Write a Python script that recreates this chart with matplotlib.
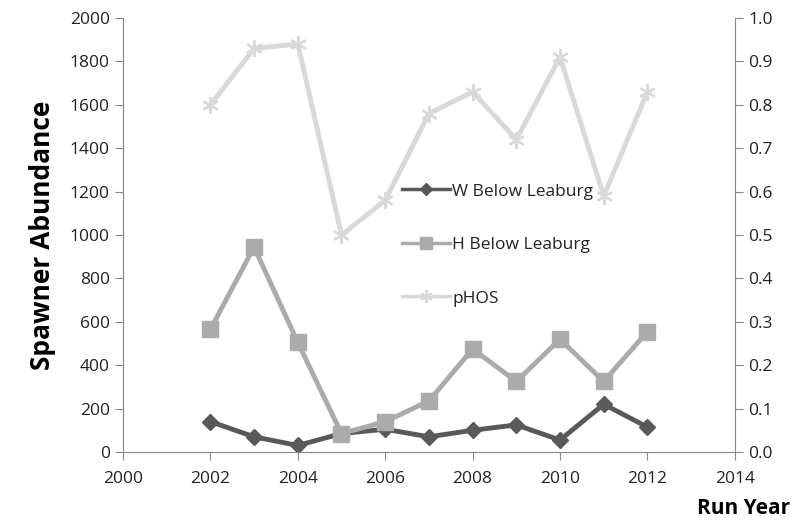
import numpy as np
import matplotlib.pyplot as plt

plt.rcParams['font.family'] = ['Open Sans', 'DejaVu Sans']

# data
years = [2002, 2003, 2004, 2005, 2006, 2007, 2008, 2009, 2010, 2011, 2012]
w_below = [140, 70, 30, 85, 105, 70, 100, 125, 55, 220, 115]
h_below = [565, 945, 505, 85, 140, 235, 475, 325, 520, 325, 555]
phos = [0.80, 0.93, 0.94, 0.50, 0.58, 0.78, 0.83, 0.72, 0.91, 0.59, 0.83]

x_ticks = [2000, 2002, 2004, 2006, 2008, 2010, 2012, 2014]
y_ticks = [0, 200, 400, 600, 800, 1000, 1200, 1400, 1600, 1800, 2000]
y2_ticks = [0.0, 0.1, 0.2, 0.3, 0.4, 0.5, 0.6, 0.7, 0.8, 0.9, 1.0]

fig = plt.figure(figsize=(7.97, 5.32), dpi=100)
ax = fig.add_axes([0.1543, 0.1504, 0.922 - 0.1543, 0.966 - 0.1504])
ax2 = ax.twinx()

spine_col = '#868686'
l3, = ax2.plot(years, phos, color='#D9D9D9', lw=3.5, marker=(6, 2, 0), ms=12,
               mew=1.6, label='pHOS')
l1, = ax.plot(years, w_below, color='#595959', lw=3.5, marker='D', ms=8,
              label='W Below Leaburg')
l2, = ax.plot(years, h_below, color='#ABABAB', lw=3.5, marker='s', ms=12,
              label='H Below Leaburg')
ax.set_zorder(ax2.get_zorder() + 1)
ax.patch.set_visible(False)

ax.set_xlim(2000, 2014)
ax.set_ylim(0, 2000)
ax2.set_ylim(0, 1.0)
ax.set_xticks(x_ticks)
ax.set_yticks(y_ticks)
ax2.set_yticks(y2_ticks)
ax2.set_yticklabels(['%.1f' % v for v in y2_ticks])

for a in (ax, ax2):
    a.spines['top'].set_visible(False)
    for s in ['left', 'right', 'bottom']:
        a.spines[s].set_color(spine_col)
    a.tick_params(direction='out', length=6, color=spine_col, labelsize=12.5,
                  labelcolor='#222222')
ax.tick_params(axis='x', pad=8)
ax.spines['right'].set_visible(False)
ax2.spines['left'].set_visible(False)
ax2.spines['bottom'].set_visible(False)

ax.set_ylabel('Spawner Abundance', fontsize=19, fontweight='bold', labelpad=10)
fig.text(0.992, 0.025, 'Run Year', ha='right', va='bottom', fontsize=15,
         fontweight='bold')

leg = ax.legend(handles=[l1, l2, l3], loc='upper left',
                bbox_to_anchor=(0.43, 0.655), frameon=False, fontsize=12.5,
                labelspacing=2.15, handlelength=2.8, handletextpad=0.1,
                markerscale=0.75, labelcolor='#222222')
for h in leg.legend_handles:
    h.set_linewidth(2.5)

fig.savefig('out.png', dpi=100)
